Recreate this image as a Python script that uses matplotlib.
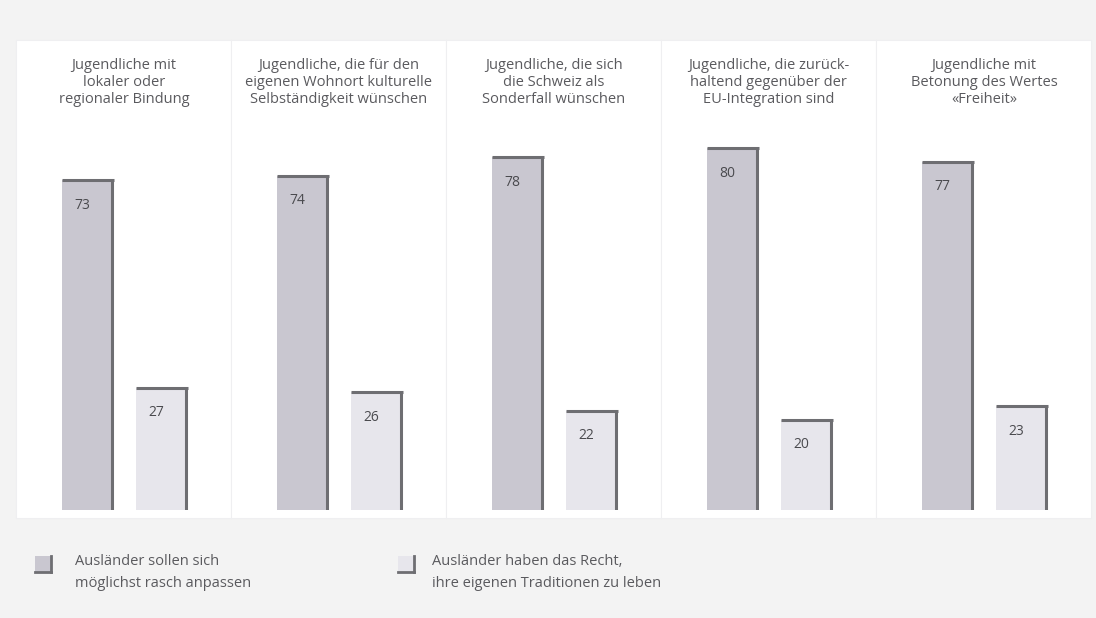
import matplotlib.pyplot as plt
from matplotlib.patches import Rectangle
from matplotlib.lines import Line2D

plt.rcParams['font.family'] = ['Open Sans', 'DejaVu Sans']

groups = [
    "Jugendliche mit\nlokaler oder\nregionaler Bindung",
    "Jugendliche, die für den\neigenen Wohnort kulturelle\nSelbständigkeit wünschen",
    "Jugendliche, die sich\ndie Schweiz als\nSonderfall wünschen",
    "Jugendliche, die zurück-\nhaltend gegenüber der\nEU-Integration sind",
    "Jugendliche mit\nBetonung des Wertes\n«Freiheit»",
]
anpassen = [73, 74, 78, 80, 77]
traditionen = [27, 26, 22, 20, 23]
series_names = [
    "Ausländer sollen sich\nmöglichst rasch anpassen",
    "Ausländer haben das Recht,\nihre eigenen Traditionen zu leben",
]

dark = "#c9c7d0"
light = "#e7e6ec"
edge = "#6e6e72"
txt = "#5a5a5e"

fig = plt.figure(figsize=(10.96, 6.18), dpi=100, facecolor="#f3f3f3")
ax = fig.add_axes([16 / 1096, 108 / 618, 1064 / 1096, 452 / 618])
ax.set_xlim(-0.502, 4.447)
ax.set_ylim(0, 100)
ax.axis("off")

# white column panels behind each group
for i in range(len(groups)):
    ax.add_patch(Rectangle((i - 0.5, -1.8), 1.0, 105.8, facecolor="white",
                           edgecolor="#efeff1", lw=0.8, clip_on=False, zorder=0))

off = 0.172
w = 0.233
for i, (a, t) in enumerate(zip(anpassen, traditionen)):
    for x, v, c in [(i - off, a, dark), (i + off, t, light)]:
        ax.bar(x, v, width=w, color=c, zorder=2)
        # shadow edges on top and right side
        ax.plot([x - w / 2, x + w / 2 + 0.01], [v, v], color=edge, lw=2.2,
                solid_capstyle="butt", zorder=3)
        ax.plot([x + w / 2, x + w / 2], [0, v], color=edge, lw=2.2,
                solid_capstyle="butt", zorder=3)
        ax.annotate(str(v), (x - w / 2, v), xytext=(9, -18),
                    textcoords="offset points", ha="left", va="center",
                    fontsize=10, color="#4a4a4e", zorder=4)
    ax.text(i, 1.0, groups[i], transform=ax.get_xaxis_transform(),
            ha="center", va="top", fontsize=10.5, color=txt, linespacing=1.2)

# legend
for k, (name, c) in enumerate(zip(series_names, [dark, light])):
    x0 = [35, 398][k] / 1096
    y0 = (618 - 572) / 618
    sw, sh = 16 / 1096, 16 / 618
    fig.patches.append(Rectangle((x0, y0), sw, sh, transform=fig.transFigure,
                                 facecolor=c, edgecolor="none"))
    fig.lines.append(Line2D([x0 + sw, x0 + sw], [y0, y0 + sh], transform=fig.transFigure,
                            color=edge, lw=2))
    fig.lines.append(Line2D([x0, x0 + sw], [y0, y0], transform=fig.transFigure,
                            color=edge, lw=2))
    fig.text(x0 + [40, 34][k] / 1096, (618 - 554) / 618, name, ha="left", va="top",
             fontsize=10.5, color=txt, linespacing=1.6)

fig.savefig("out.png", dpi=100, facecolor=fig.get_facecolor())
